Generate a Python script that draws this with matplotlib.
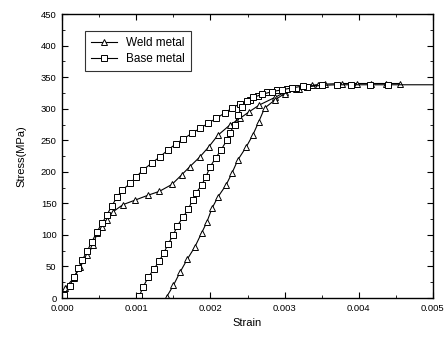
import matplotlib.pyplot as plt
from matplotlib.ticker import MultipleLocator, FormatStrFormatter

plt.rcParams['font.family'] = ['Liberation Sans', 'DejaVu Sans']

# Weld metal, first loading from zero
weld1_strain = [0, 0.00004, 0.00016, 0.00024, 0.00034, 0.00042, 0.00047, 0.00054, 0.0006,
                0.00069, 0.00082, 0.00098, 0.00116, 0.00131, 0.00148, 0.00161, 0.00172,
                0.00186, 0.00198, 0.0021, 0.00226, 0.0024, 0.00252, 0.00266, 0.00287,
                0.0030, 0.0032, 0.00337, 0.00354, 0.00377, 0.00397, 0.00417, 0.00437, 0.00455]
weld1_stress = [0, 16, 32, 49, 68, 84, 103, 112, 124,
                137, 148, 155, 163, 169, 180, 195, 208,
                224, 240, 258, 274, 285, 295, 306, 318,
                326, 332, 337, 339, 340, 340, 340, 340, 340]

# Weld metal, reloading
weld2_strain = [0.00141, 0.0015, 0.00159, 0.00169, 0.00179, 0.00188, 0.00195, 0.00202, 0.0021,
                0.00221, 0.00229, 0.00237, 0.00248, 0.00257, 0.00265, 0.00273, 0.00287,
                0.003, 0.00315, 0.0033, 0.00345]
weld2_stress = [2, 20, 41, 62, 81, 103, 120, 142, 160,
                179, 198, 219, 239, 258, 279, 301, 314,
                324, 331, 335, 338]

# Base metal, first loading from zero
base1_strain = [0, 0.00003, 0.0001, 0.00016, 0.00022, 0.00027, 0.00034, 0.0004, 0.00047,
                0.00054, 0.0006, 0.00067, 0.00074, 0.00081, 0.00092, 0.001, 0.00109,
                0.00121, 0.00132, 0.00143, 0.00153, 0.00163, 0.00175, 0.00186, 0.00197,
                0.00208, 0.00219, 0.00229, 0.0024, 0.00253, 0.00264, 0.00276, 0.0029,
                0.00303, 0.00316, 0.0033, 0.0035, 0.0037, 0.0039, 0.00415, 0.00439, 0.005]
base1_stress = [0, 5, 19, 33, 47, 60, 75, 89, 105,
                119, 131, 146, 160, 171, 182, 192, 203,
                214, 224, 235, 244, 252, 261, 269, 277,
                285, 293, 301, 308, 314, 320, 326, 329,
                331, 333, 335, 337, 338, 338, 338, 338, 338]

# Base metal, reloading
base2_strain = [0.00104, 0.00109, 0.00116, 0.00124, 0.00131, 0.00137, 0.00143, 0.0015, 0.00155,
                0.00163, 0.0017, 0.00176, 0.00181, 0.00188, 0.00194, 0.00199, 0.00207,
                0.00214, 0.00222, 0.00226, 0.00233, 0.00237, 0.00242, 0.00249, 0.00258,
                0.0027, 0.00283, 0.00296, 0.0031, 0.00325]
base2_stress = [3, 17, 33, 46, 59, 71, 86, 100, 114,
                128, 141, 155, 167, 179, 192, 207, 222,
                234, 250, 262, 275, 290, 302, 312, 318,
                323, 327, 330, 333, 336]

fig = plt.figure(figsize=(4.44, 3.40), dpi=100)
ax = fig.add_axes([0.14, 0.1235, 0.835, 0.835])

tri = dict(color='black', lw=0.8, marker='^', ms=5, mfc='white', mec='black', mew=0.7)
sq = dict(color='black', lw=0.8, marker='s', ms=3.8, mfc='white', mec='black', mew=0.7)

ax.plot(weld1_strain, weld1_stress, label='Weld metal', **tri)
ax.plot(weld2_strain, weld2_stress, **tri)
ax.plot(base1_strain, base1_stress, label='Base metal',
        markevery=list(range(len(base1_strain) - 1)), **sq)
ax.plot(base2_strain, base2_stress, **sq)

ax.set_xlim(0, 0.005)
ax.set_ylim(0, 450)
ax.xaxis.set_major_locator(MultipleLocator(0.001))
ax.xaxis.set_minor_locator(MultipleLocator(0.0005))
ax.xaxis.set_major_formatter(FormatStrFormatter('%.3f'))
ax.yaxis.set_major_locator(MultipleLocator(50))
ax.yaxis.set_minor_locator(MultipleLocator(25))

ax.tick_params(which='both', direction='in', top=True, right=True, labelsize=6.8, pad=4)
ax.tick_params(which='major', length=4, width=0.8)
ax.tick_params(which='minor', length=2, width=0.6)
for s in ax.spines.values():
    s.set_linewidth(1.0)

ax.set_xlabel('Strain', fontsize=8)
ax.set_ylabel('Stress(MPa)', fontsize=8, labelpad=10)

leg = ax.legend(loc='upper left', bbox_to_anchor=(0.045, 0.96), fontsize=8.5, frameon=True,
                fancybox=False, edgecolor='black', handlelength=2.2, borderpad=0.5,
                labelspacing=0.3)
leg.get_frame().set_linewidth(0.8)

fig.savefig('out.png', dpi=100)
